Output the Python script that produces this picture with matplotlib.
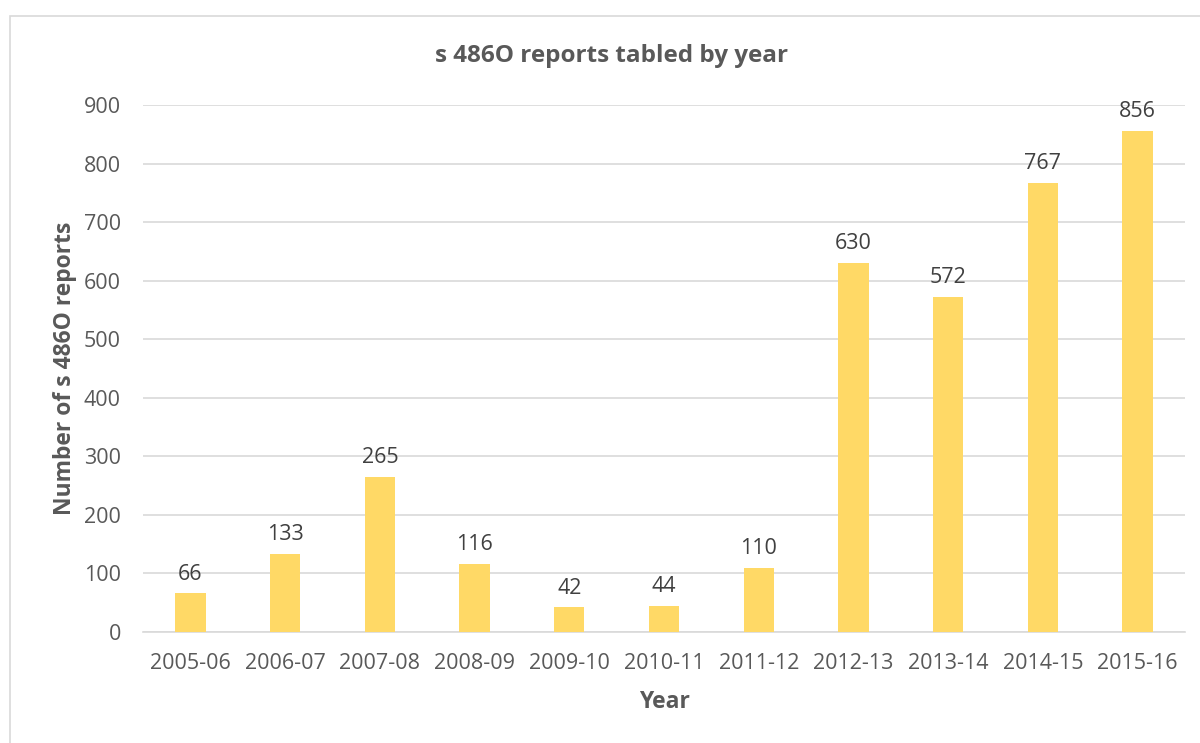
import matplotlib
matplotlib.use("Agg")
import matplotlib.pyplot as plt
from matplotlib.patches import Rectangle

years = ["2005-06", "2006-07", "2007-08", "2008-09", "2009-10", "2010-11",
         "2011-12", "2012-13", "2013-14", "2014-15", "2015-16"]
reports = [66, 133, 265, 116, 42, 44, 110, 630, 572, 767, 856]
yticks = [0, 100, 200, 300, 400, 500, 600, 700, 800, 900]

plt.rcParams['font.family'] = ['Open Sans', 'DejaVu Sans']
txt = '#595959'

fig = plt.figure(figsize=(12, 7.43), dpi=100)
fig.patches.append(Rectangle((10/1200, -0.1), 1.2, (743-16)/743 + 0.1, transform=fig.transFigure,
                             fill=False, edgecolor='#d9d9d9', linewidth=1.2))
ax = fig.add_axes([143/1200, (743-632)/743, (1185-143)/1200, (632-105)/743])

x = list(range(len(years)))
ax.bar(x, reports, width=0.32, color='#ffd966', zorder=3)
for xi, v in zip(x, reports):
    ax.text(xi, v + 15, str(v), ha='center', va='bottom', fontsize=15.5, color='#404040')

ax.set_xlim(-0.5, len(years) - 0.5)
ax.set_ylim(0, 900)
ax.set_yticks(yticks)
ax.set_xticks(x)
ax.set_xticklabels(years)
ax.tick_params(axis='both', length=0, labelsize=15.5, labelcolor=txt)
ax.tick_params(axis='y', pad=16)
ax.tick_params(axis='x', pad=15)
ax.grid(axis='y', color='#d9d9d9', linewidth=1.2, zorder=0)
for s in ['top', 'right', 'left']:
    ax.spines[s].set_visible(False)
ax.spines['bottom'].set_color('#d9d9d9')
ax.spines['bottom'].set_linewidth(1.2)

ax.set_xlabel('Year', fontsize=16.5, fontweight='bold', color=txt, labelpad=12)
ax.set_ylabel('Number of s 486O reports', fontsize=16.5, fontweight='bold', color=txt, labelpad=5)
fig.text(612/1200, 1 - 56/743, 's 486O reports tabled by year', ha='center', va='center',
         fontsize=17.5, fontweight='bold', color=txt)

fig.savefig('out.png', dpi=100)
